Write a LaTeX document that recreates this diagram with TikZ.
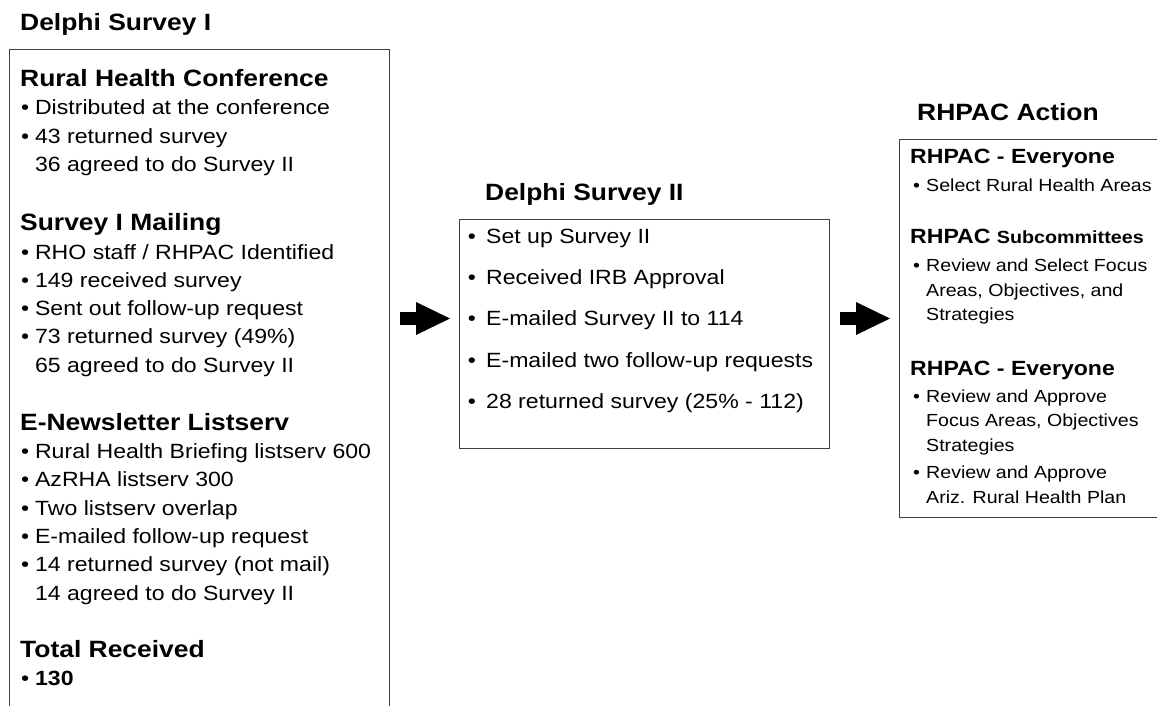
\documentclass[tikz,border=0pt]{standalone}
\usepackage{fontspec}
\setmainfont{Liberation Sans}[FakeStretch=1.12]
\usetikzlibrary{arrows.meta,positioning}
\newcommand{\bul}[1][13.9pt]{\makebox[#1][l]{\textbullet}}
\newcommand{\nobul}[1][13.9pt]{\hspace*{#1}}

\begin{document}
\begin{tikzpicture}[x=1pt,y=-1pt,
      panel/.style={draw=black!75,line width=1.3pt,anchor=north west,inner sep=0pt},
      title/.style={anchor=base west,inner sep=0pt,font=\fontsize{23.6}{28}\selectfont\bfseries},
      leftlist/.style={anchor=base west,inner sep=0pt,align=left,font=\fontsize{20.6}{28.3}\selectfont},
      midlist/.style={anchor=base west,inner sep=0pt,align=left,font=\fontsize{20.6}{41.4}\selectfont},
      righthead/.style={anchor=base west,inner sep=0pt,font=\fontsize{20.6}{24}\selectfont\bfseries},
      rightlist/.style={anchor=base west,inner sep=0pt,align=left,font=\fontsize{17.5}{24.6}\selectfont},
      bigarrow/.style={line width=13pt,-{Triangle[length=34pt,width=33pt,line width=0pt]}}
    ]
    \useasboundingbox (0,0) rectangle (1157,706);
    \clip (0,0) rectangle (1157,706);
    \node[panel,minimum width=380pt,minimum height=680pt] (s1box) at (9,49) {};
    \node[panel,minimum width=370pt,minimum height=229pt] (s2box) at (459,219) {};
    \node[panel,minimum width=280pt,minimum height=378pt] (actbox) at (899,139) {};

    % lists sit on the baseline of their last line
    \node[title] (s1title) at (20,31) {Delphi Survey I};
    \node[title] (confhead) at (20,86.5) {Rural Health Conference};
    \node[leftlist] (conflist) at (21,171.6) {\bul Distributed at the conference\\
      \bul 43 returned survey\\ \nobul 36 agreed to do Survey II};
    \node[title] (mailhead) at (20,230) {Survey I Mailing};
    \node[leftlist] (maillist) at (21,372.2) {\bul RHO staff / RHPAC Identified\\
      \bul 149 received survey\\ \bul Sent out follow-up request\\
      \bul 73 returned survey (49\%)\\ \nobul 65 agreed to do Survey II};
    \node[title] (newshead) at (20,430) {E-Newsletter Listserv};
    \node[leftlist] (newslist) at (21,600) {\bul Rural Health Briefing listserv 600\\
      \bul AzRHA listserv 300\\ \bul Two listserv overlap\\
      \bul E-mailed follow-up request\\ \bul 14 returned survey (not mail)\\
      \nobul 14 agreed to do Survey II};
    \node[title] (totalhead) at (20,657) {Total Received};
    \node[leftlist] (totallist) at (21,685.5) {\bul\textbf{130}};

    \node[title] (s2title) at (485,200.7) {Delphi Survey II};
    \node[midlist] (s2list) at (467.7,408.6) {\bul[18.3pt]Set up Survey II\\
      \bul[18.3pt]Received IRB Approval\\ \bul[18.3pt]E-mailed Survey II to 114\\
      \bul[18.3pt]E-mailed two follow-up requests\\ \bul[18.3pt]28 returned survey (25\% - 112)};

    \node[title] (acttitle) at (917,121) {RHPAC Action};
    \node[righthead] (allhead1) at (910,163.3) {RHPAC - Everyone};
    \node[rightlist] (alllist1) at (913,191) {\bul[13pt]Select Rural Health Areas};
    \node[righthead] (subhead) at (910,243) {RHPAC {\fontsize{17.6}{24}\selectfont Subcommittees}};
    \node[rightlist] (sublist) at (913,320.9) {\bul[13pt]Review and Select Focus\\
      \nobul[13pt]Areas, Objectives, and\\ \nobul[13pt]Strategies};
    \node[righthead] (allhead2) at (910,375) {RHPAC - Everyone};
    \node[rightlist] (alllist2) at (913,503) {\bul[13pt]Review and Approve\\
      \nobul[13pt]Focus Areas, Objectives\\ \nobul[13pt]Strategies\\[2.6pt]
      \bul[13pt]Review and Approve\\ \nobul[13pt]Ariz. Rural Health Plan};

    \coordinate (arrowrow) at (0,318.5);
    \draw[bigarrow,shorten <=10pt,shorten >=9pt] (s1box.east |- arrowrow) -- (s2box.west |- arrowrow);
    \draw[bigarrow,shorten <=10pt,shorten >=9pt] (s2box.east |- arrowrow) -- (actbox.west |- arrowrow);
  \end{tikzpicture}
\end{document}
